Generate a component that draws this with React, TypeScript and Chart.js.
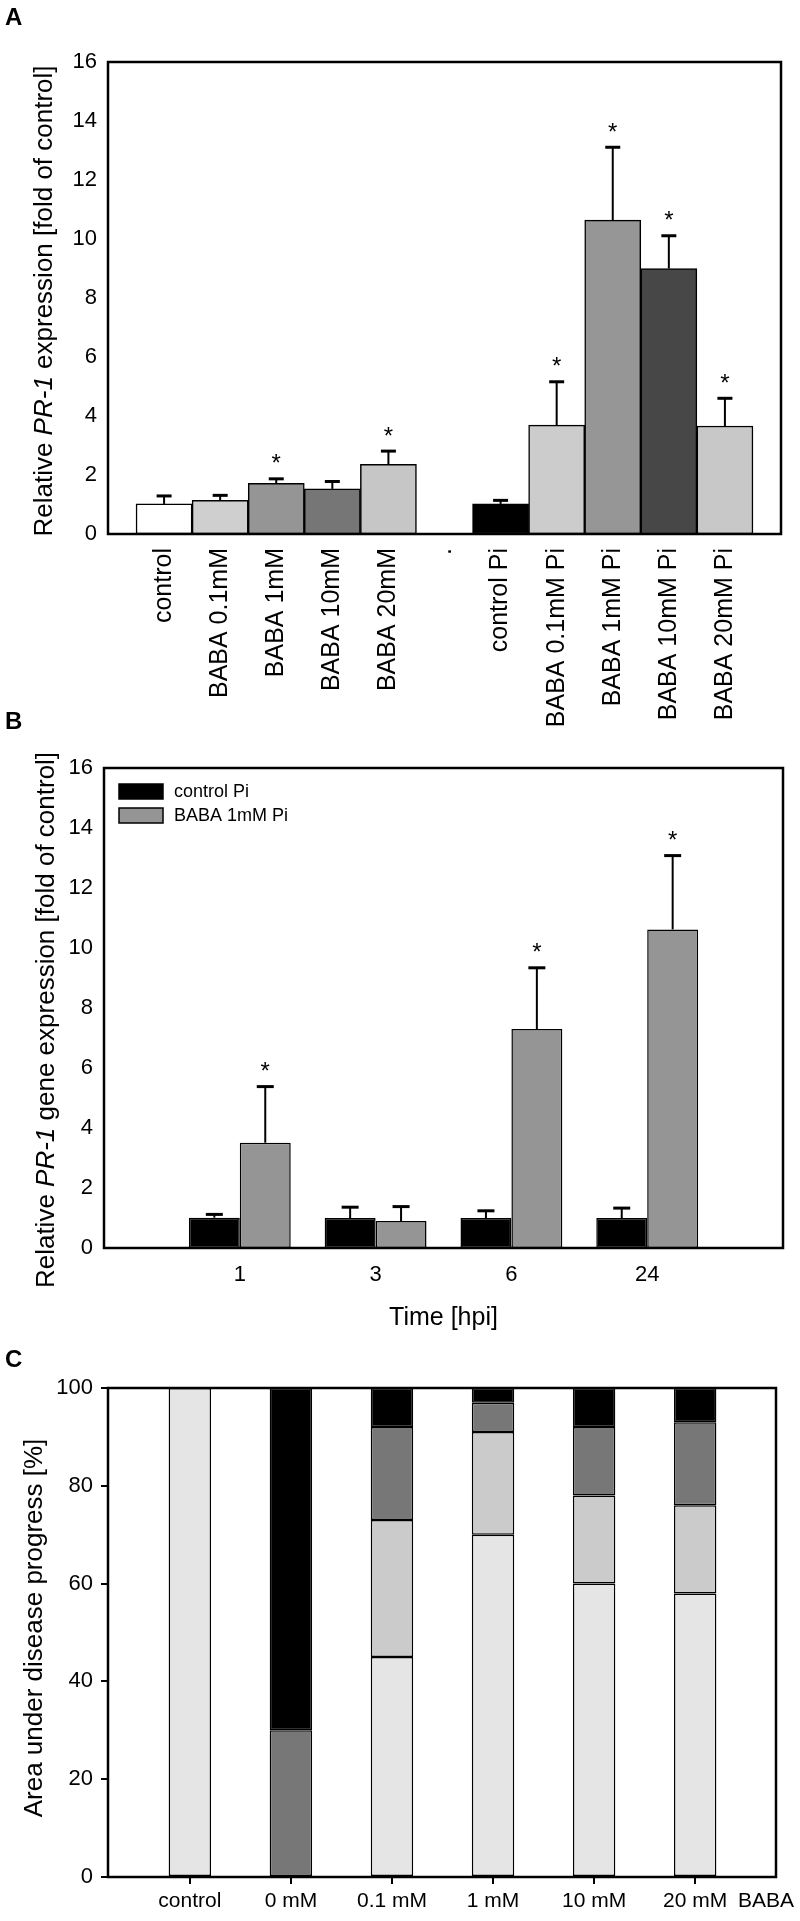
import { useEffect, useRef } from 'react';
import { Chart, registerables } from 'chart.js';

Chart.register(...registerables);

const FONT = "'Liberation Sans', Arial, Helvetica, sans-serif";

// ---------- Panel A ----------
const A_LABELS = [
  'control', 'BABA 0.1mM', 'BABA 1mM', 'BABA 10mM', 'BABA 20mM', '.',
  'control Pi', 'BABA 0.1mM Pi', 'BABA 1mM Pi', 'BABA 10mM Pi', 'BABA 20mM Pi',
];
const A_VALUES = [1.02, 1.14, 1.72, 1.53, 2.36, null, 1.02, 3.69, 10.64, 9.0, 3.66];
const A_ERRORS = [0.27, 0.17, 0.15, 0.25, 0.45, null, 0.12, 1.47, 2.47, 1.11, 0.94];
const A_SIGNIFICANT = [false, false, true, false, true, false, false, true, true, true, true];
const A_COLORS = ['#ffffff', '#cfcfcf', '#959595', '#767676', '#c6c6c6', '#ffffff',
  '#000000', '#cccccc', '#969696', '#474747', '#c8c8c8'];
const A_Y_TITLE = [{ text: 'Relative ' }, { text: 'PR-1', italic: true }, { text: ' expression [fold of control]' }];

// ---------- Panel B ----------
const B_TIMES = ['1', '3', '6', '24'];
const B_SERIES = ['control Pi', 'BABA 1mM Pi'];
const B_CONTROL = [1.01, 1.0, 1.0, 1.0];
const B_CONTROL_ERR = [0.11, 0.36, 0.24, 0.33];
const B_BABA = [3.51, 0.9, 7.3, 10.62];
const B_BABA_ERR = [1.87, 0.48, 2.04, 2.46];
const B_BABA_SIG = [true, false, true, true];
const B_X_TITLE = 'Time [hpi]';
const B_Y_TITLE = [{ text: 'Relative ' }, { text: 'PR-1', italic: true }, { text: ' gene expression [fold of control]' }];

// ---------- Panel C ----------
const C_GROUPS = ['control', '0 mM', '0.1 mM', '1 mM', '10 mM', '20 mM'];
const C_AXIS_NAME = 'BABA';
const C_STAGE1 = [100, 0, 45, 70, 60, 58];
const C_STAGE2 = [0, 0, 28, 21, 18, 18];
const C_STAGE3 = [0, 30, 19, 6, 14, 17];
const C_STAGE4 = [0, 70, 8, 3, 8, 7];
const C_COLORS = ['#e5e5e5', '#cbcbcb', '#777777', '#000000'];
const C_Y_TITLE = [{ text: 'Area under disease progress [%]' }];

type Part = { text: string; italic?: boolean };

function drawRotatedTitle(ctx: CanvasRenderingContext2D, parts: Part[], cx: number, cy: number, size: number) {
  ctx.save();
  ctx.translate(cx, cy);
  ctx.rotate(-Math.PI / 2);
  ctx.textBaseline = 'middle';
  ctx.textAlign = 'left';
  ctx.fillStyle = '#000';
  const fonts = parts.map((p) => `${p.italic ? 'italic ' : ''}${size}px ${FONT}`);
  let total = 0;
  const widths = parts.map((p, i) => {
    ctx.font = fonts[i];
    const w = ctx.measureText(p.text).width;
    total += w;
    return w;
  });
  let x = -total / 2;
  parts.forEach((p, i) => {
    ctx.font = fonts[i];
    ctx.fillText(p.text, x, 0);
    x += widths[i];
  });
  ctx.restore();
}

function fixWidth(w: number) {
  return (s: any) => {
    s.width = w;
    s.paddingLeft = 0; s.paddingRight = 0; s.paddingTop = 0; s.paddingBottom = 0;
  };
}
function fixHeight(h: number) {
  return (s: any) => {
    s.height = h;
    s.paddingLeft = 0; s.paddingRight = 0; s.paddingTop = 0; s.paddingBottom = 0;
  };
}

function panelPlugin(opts: {
  title: Part[]; titleX: number; titleY: number; titleSize: number;
  capWidth?: number; xTitle?: string; xTitleY?: number; legend?: boolean;
}) {
  return {
    id: 'panelExtras',
    afterDatasetsDraw(chart: any) {
      const ctx: CanvasRenderingContext2D = chart.ctx;
      const ys = chart.scales.y;
      const cap = opts.capWidth ?? 15;
      chart.data.datasets.forEach((ds: any, di: number) => {
        if (!ds.errors) return;
        const meta = chart.getDatasetMeta(di);
        meta.data.forEach((el: any, i: number) => {
          const pt = ds.data[i];
          const e = ds.errors[i];
          if (!pt || pt.y == null || e == null) return;
          const x = el.x;
          const y0 = ys.getPixelForValue(pt.y);
          const y1 = ys.getPixelForValue(pt.y + e);
          ctx.save();
          ctx.strokeStyle = '#000';
          ctx.lineWidth = 2;
          ctx.beginPath(); ctx.moveTo(x, y0); ctx.lineTo(x, y1); ctx.stroke();
          ctx.lineWidth = 3;
          ctx.beginPath(); ctx.moveTo(x - cap / 2, y1); ctx.lineTo(x + cap / 2, y1); ctx.stroke();
          if (ds.significant && ds.significant[i]) {
            ctx.fillStyle = '#000';
            ctx.font = `24px ${FONT}`;
            ctx.textAlign = 'center';
            ctx.textBaseline = 'alphabetic';
            ctx.fillText('*', x, y1 - 21 + 13.5);
          }
          ctx.restore();
        });
      });
      const a = chart.chartArea;
      ctx.save();
      ctx.strokeStyle = '#000';
      ctx.lineWidth = 2.5;
      ctx.strokeRect(a.left, a.top, a.right - a.left, a.bottom - a.top);
      ctx.restore();
    },
    afterDraw(chart: any) {
      const ctx: CanvasRenderingContext2D = chart.ctx;
      const a = chart.chartArea;
      drawRotatedTitle(ctx, opts.title, opts.titleX, opts.titleY, opts.titleSize);
      if (opts.xTitle) {
        ctx.save();
        ctx.fillStyle = '#000';
        ctx.font = `25px ${FONT}`;
        ctx.textAlign = 'center';
        ctx.textBaseline = 'middle';
        ctx.fillText(opts.xTitle, (a.left + a.right) / 2, opts.xTitleY ?? 0);
        ctx.restore();
      }
      if (opts.legend) {
        ctx.save();
        chart.data.datasets.forEach((ds: any, i: number) => {
          const bx = a.left + 15;
          const by = a.top + 16 + i * 24;
          ctx.fillStyle = ds.backgroundColor;
          ctx.fillRect(bx, by, 44, 15);
          ctx.strokeStyle = '#000';
          ctx.lineWidth = 1.5;
          ctx.strokeRect(bx, by, 44, 15);
          ctx.fillStyle = '#000';
          ctx.font = `18px ${FONT}`;
          ctx.textAlign = 'left';
          ctx.textBaseline = 'middle';
          ctx.fillText(ds.label, bx + 55, by + 8);
        });
        ctx.restore();
      }
    },
  };
}

function makeA(canvas: HTMLCanvasElement) {
  const H = 745;
  return new Chart(canvas, {
    type: 'bar',
    data: {
      datasets: [{
        data: A_VALUES.map((v, i) => ({ x: i + 1, y: v })),
        backgroundColor: A_COLORS,
        borderColor: '#000',
        borderWidth: 1.5,
        borderSkipped: false,
        barPercentage: 1,
        categoryPercentage: 1,
        errors: A_ERRORS,
        significant: A_SIGNIFICANT,
      } as any],
    },
    options: {
      animation: false,
      responsive: false,
      layout: { padding: { top: 62, right: 19, left: 0, bottom: 0 } },
      plugins: { legend: { display: false }, tooltip: { enabled: false } },
      scales: {
        x: {
          type: 'linear', min: 0, max: A_LABELS.length + 1, offset: false,
          grid: { display: false, drawTicks: false, offset: false },
          border: { display: false },
          afterBuildTicks: (s: any) => { s.ticks = A_LABELS.map((_, i) => ({ value: i + 1 })); },
          ticks: {
            autoSkip: false, minRotation: 90, maxRotation: 90, padding: 14, color: '#000',
            font: { size: 25, family: FONT },
            callback: (v: any) => A_LABELS[Number(v) - 1] ?? '',
          },
          afterFit: fixHeight(H - 534),
        },
        y: {
          min: 0, max: 16,
          ticks: { stepSize: 2, padding: 11, color: '#000', font: { size: 22, family: FONT } },
          grid: { display: false, drawTicks: false },
          border: { display: false },
          afterFit: fixWidth(108),
        },
      },
    } as any,
    plugins: [panelPlugin({ title: A_Y_TITLE, titleX: 45, titleY: 301, titleSize: 26, capWidth: 15 })],
  });
}

function makeB(canvas: HTMLCanvasElement) {
  const H = 640;
  return new Chart(canvas, {
    type: 'bar',
    data: {
      datasets: [
        {
          label: B_SERIES[0],
          data: B_CONTROL.map((v, i) => ({ x: i + 1, y: v })),
          backgroundColor: '#000000', borderColor: '#000', borderWidth: 1.5, borderSkipped: false,
          barPercentage: 1, categoryPercentage: 0.75,
          errors: B_CONTROL_ERR, significant: B_CONTROL.map(() => false),
        } as any,
        {
          label: B_SERIES[1],
          data: B_BABA.map((v, i) => ({ x: i + 1, y: v })),
          backgroundColor: '#959595', borderColor: '#000', borderWidth: 1.5, borderSkipped: false,
          barPercentage: 1, categoryPercentage: 0.75,
          errors: B_BABA_ERR, significant: B_BABA_SIG,
        } as any,
      ],
    },
    options: {
      animation: false,
      responsive: false,
      layout: { padding: { top: 68, right: 17, left: 0, bottom: 0 } },
      plugins: { legend: { display: false }, tooltip: { enabled: false } },
      scales: {
        x: {
          type: 'linear', min: 0, max: B_TIMES.length + 1, offset: false,
          grid: { display: false, drawTicks: false, offset: false },
          border: { display: false },
          afterBuildTicks: (s: any) => { s.ticks = B_TIMES.map((_, i) => ({ value: i + 1 })); },
          ticks: {
            autoSkip: false, maxRotation: 0, padding: 14, color: '#000',
            font: { size: 22, family: FONT },
            callback: (v: any) => B_TIMES[Number(v) - 1] ?? '',
          },
          afterFit: fixHeight(H - 548),
        },
        y: {
          min: 0, max: 16,
          ticks: { stepSize: 2, padding: 11, color: '#000', font: { size: 22, family: FONT } },
          grid: { display: false, drawTicks: false },
          border: { display: false },
          afterFit: fixWidth(104),
        },
      },
    } as any,
    plugins: [panelPlugin({
      title: B_Y_TITLE, titleX: 47, titleY: 320, titleSize: 26, capWidth: 17,
      xTitle: B_X_TITLE, xTitleY: 618, legend: true,
    })],
  });
}

function makeC(canvas: HTMLCanvasElement) {
  const H = 581;
  const stages = [C_STAGE1, C_STAGE2, C_STAGE3, C_STAGE4];
  const labelAt = (v: number) => {
    const i = Math.round(v);
    if (Math.abs(v - i) < 1e-6 && i >= 0 && i < C_GROUPS.length) return C_GROUPS[i];
    return C_AXIS_NAME;
  };
  return new Chart(canvas, {
    type: 'bar',
    data: {
      datasets: stages.map((vals, si) => ({
        data: vals.map((v, i) => ({ x: i, y: v })),
        backgroundColor: C_COLORS[si],
        borderColor: '#000',
        borderWidth: 1.5,
        borderSkipped: false,
        barPercentage: 0.6,
        categoryPercentage: 1,
      })) as any,
    },
    options: {
      animation: false,
      responsive: false,
      layout: { padding: { top: 48, right: 24, left: 0, bottom: 0 } },
      plugins: { legend: { display: false }, tooltip: { enabled: false } },
      scales: {
        x: {
          type: 'linear', min: -0.81, max: C_GROUPS.length - 0.2, offset: false, stacked: true,
          grid: {
            display: true, drawOnChartArea: false, drawTicks: true, tickLength: 7, lineWidth: 2,
            offset: false,
            color: '#000',
            tickColor: (c: any) => (c.index >= C_GROUPS.length ? 'rgba(0,0,0,0)' : '#000'),
          },
          border: { display: false },
          afterBuildTicks: (s: any) => {
            s.ticks = [...C_GROUPS.map((_, i) => ({ value: i })), { value: C_GROUPS.length - 0.3 }];
          },
          ticks: {
            autoSkip: false, maxRotation: 0, padding: 5, color: '#000',
            font: { size: 21, family: FONT },
            callback: (v: any) => labelAt(Number(v)),
          },
          afterFit: fixHeight(H - 537),
        },
        y: {
          min: 0, max: 100, stacked: true,
          ticks: { stepSize: 20, padding: 8, color: '#000', font: { size: 22, family: FONT } },
          grid: { display: true, drawOnChartArea: false, drawTicks: true, tickLength: 7, lineWidth: 2, color: '#000' },
          border: { display: false },
          afterFit: fixWidth(108),
        },
      },
    } as any,
    plugins: [panelPlugin({ title: C_Y_TITLE, titleX: 35, titleY: 288, titleSize: 26 })],
  });
}

function ChartCanvas({ top, height, make }: { top: number; height: number; make: (c: HTMLCanvasElement) => Chart }) {
  const ref = useRef<HTMLCanvasElement>(null);
  useEffect(() => {
    if (!ref.current) return;
    const chart = make(ref.current);
    return () => chart.destroy();
  }, []);
  return (
    <div style={{ position: 'absolute', left: 0, top, width: 800, height }}>
      <canvas ref={ref} width={800} height={height} style={{ width: 800, height, display: 'block' }} />
    </div>
  );
}

const letterStyle = (top: number): React.CSSProperties => ({
  position: 'absolute', left: 5, top, fontFamily: FONT, fontWeight: 'bold', fontSize: 24, lineHeight: 1, color: '#000',
});

export default function App() {
  return (
    <div style={{ position: 'absolute', left: 0, top: 0, width: 800, height: 1921, background: '#fff', overflow: 'hidden' }}>
      <ChartCanvas top={0} height={745} make={makeA} />
      <ChartCanvas top={700} height={640} make={makeB} />
      <ChartCanvas top={1340} height={581} make={makeC} />
      <div style={letterStyle(5)}>A</div>
      <div style={letterStyle(709)}>B</div>
      <div style={letterStyle(1347)}>C</div>
    </div>
  );
}
